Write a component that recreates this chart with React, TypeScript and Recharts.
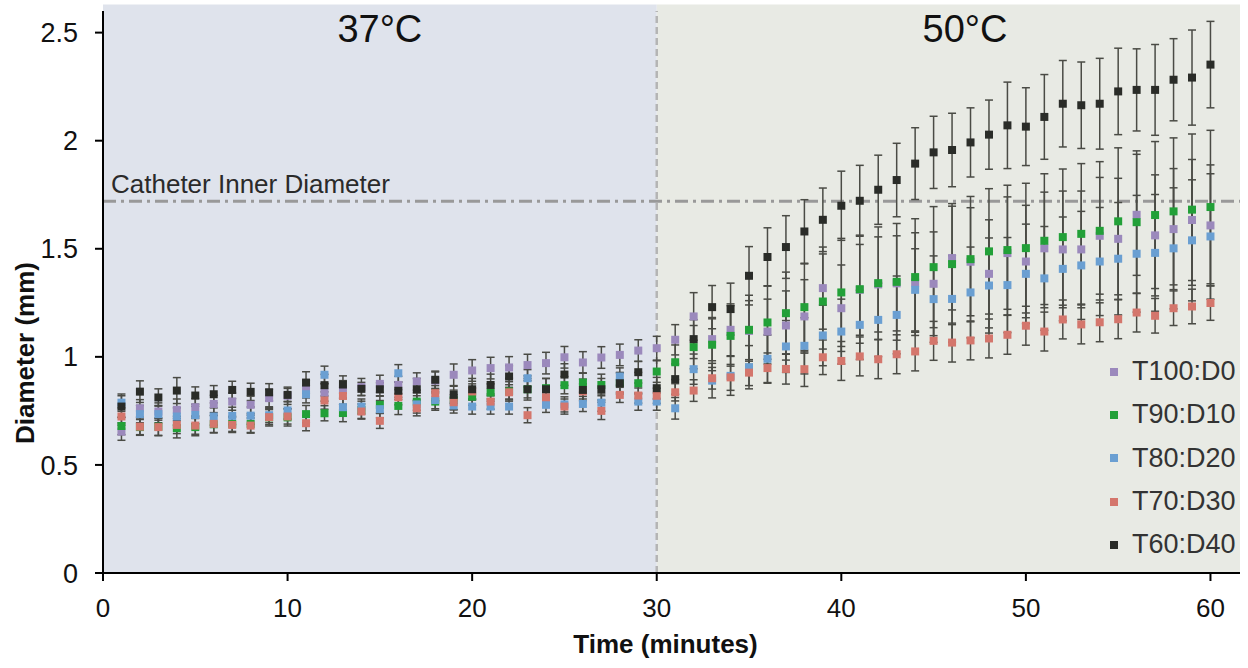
import React from 'react';
import {
  ScatterChart, Scatter, XAxis, YAxis, ZAxis, ErrorBar,
  ReferenceArea, ReferenceLine, ReferenceDot, Legend,
} from 'recharts';

const TIME = [
  1, 2, 3, 4, 5, 6, 7, 8, 9, 10, 11, 12, 13, 14, 15, 16, 17, 18, 19, 20,
  21, 22, 23, 24, 25, 26, 27, 28, 29, 30, 31, 32, 33, 34, 35, 36, 37, 38, 39, 40,
  41, 42, 43, 44, 45, 46, 47, 48, 49, 50, 51, 52, 53, 54, 55, 56, 57, 58, 59, 60,
];

const T100_D0 = [
  0.654, 0.762, 0.747, 0.755, 0.767, 0.782, 0.793, 0.778, 0.809, 0.82,
  0.85, 0.835, 0.85, 0.86, 0.875, 0.87, 0.886, 0.89, 0.917, 0.937,
  0.948, 0.951, 0.962, 0.971, 0.998, 0.974, 0.997, 1.009, 1.029, 1.04,
  1.079, 1.187, 1.082, 1.125, 1.12, 1.117, 1.145, 1.187, 1.318, 1.225,
  1.31, 1.335, 1.34, 1.344, 1.338, 1.457, 1.44, 1.384, 1.48, 1.441,
  1.502, 1.497, 1.497, 1.56, 1.546, 1.657, 1.562, 1.591, 1.633, 1.608,
];
const T100_D0_ERR = [
  0.04, 0.04, 0.04, 0.05, 0.04, 0.04, 0.04, 0.04, 0.04, 0.04,
  0.04, 0.04, 0.04, 0.04, 0.04, 0.04, 0.04, 0.04, 0.05, 0.05,
  0.05, 0.05, 0.05, 0.05, 0.05, 0.05, 0.05, 0.05, 0.05, 0.055,
  0.07, 0.11, 0.1, 0.12, 0.14, 0.15, 0.16, 0.17, 0.19, 0.2,
  0.21, 0.22, 0.22, 0.23, 0.24, 0.24, 0.25, 0.25, 0.26, 0.26,
  0.26, 0.27, 0.27, 0.27, 0.28, 0.28, 0.28, 0.28, 0.28, 0.28,
];

const T90_D10 = [
  0.68, 0.675, 0.677, 0.67, 0.675, 0.688, 0.69, 0.69, 0.72, 0.72,
  0.735, 0.739, 0.74, 0.755, 0.778, 0.773, 0.793, 0.793, 0.801, 0.816,
  0.835, 0.84, 0.85, 0.855, 0.869, 0.881, 0.87, 0.88, 0.878, 0.932,
  0.975, 1.045, 1.056, 1.097, 1.125, 1.159, 1.202, 1.23, 1.256, 1.298,
  1.313, 1.341, 1.347, 1.369, 1.415, 1.429, 1.452, 1.488, 1.494, 1.503,
  1.537, 1.554, 1.569, 1.583, 1.627, 1.623, 1.656, 1.673, 1.681, 1.693,
];
const T90_D10_ERR = [
  0.04, 0.035, 0.04, 0.045, 0.04, 0.04, 0.035, 0.04, 0.04, 0.04,
  0.04, 0.035, 0.04, 0.04, 0.04, 0.04, 0.04, 0.04, 0.045, 0.04,
  0.04, 0.045, 0.04, 0.045, 0.04, 0.045, 0.05, 0.045, 0.05, 0.05,
  0.08, 0.1, 0.12, 0.14, 0.16, 0.17, 0.19, 0.2, 0.22, 0.25,
  0.25, 0.26, 0.27, 0.27, 0.28, 0.28, 0.29, 0.29, 0.3, 0.3,
  0.31, 0.315, 0.325, 0.32, 0.34, 0.33, 0.34, 0.34, 0.35, 0.355,
];

const T80_D20 = [
  0.788, 0.735, 0.735, 0.724, 0.731, 0.724, 0.727, 0.728, 0.73, 0.752,
  0.827, 0.917, 0.767, 0.77, 0.758, 0.924, 0.78, 0.8, 0.775, 0.77,
  0.77, 0.77, 0.901, 0.778, 0.78, 0.782, 0.788, 0.909, 0.793, 0.793,
  0.762, 0.943, 0.89, 0.912, 0.952, 0.991, 1.048, 1.051, 1.099, 1.117,
  1.148, 1.171, 1.194, 1.31, 1.267, 1.268, 1.298, 1.33, 1.332, 1.384,
  1.363, 1.407, 1.423, 1.441, 1.454, 1.477, 1.481, 1.502, 1.539, 1.557,
];
const T80_D20_ERR = [
  0.04, 0.04, 0.04, 0.04, 0.04, 0.04, 0.04, 0.04, 0.035, 0.04,
  0.04, 0.04, 0.04, 0.035, 0.04, 0.04, 0.04, 0.04, 0.035, 0.035,
  0.035, 0.035, 0.04, 0.035, 0.035, 0.035, 0.04, 0.04, 0.04, 0.04,
  0.05, 0.07, 0.08, 0.09, 0.1, 0.11, 0.12, 0.13, 0.14, 0.15,
  0.16, 0.17, 0.18, 0.19, 0.2, 0.2, 0.21, 0.22, 0.22, 0.23,
  0.24, 0.24, 0.25, 0.25, 0.26, 0.27, 0.27, 0.28, 0.28, 0.29,
];

const T70_D30 = [
  0.724, 0.677, 0.675, 0.685, 0.682, 0.69, 0.685, 0.682, 0.721, 0.724,
  0.693, 0.798, 0.819, 0.747, 0.704, 0.813, 0.762, 0.832, 0.79, 0.84,
  0.793, 0.836, 0.73, 0.813, 0.77, 0.84, 0.75, 0.824, 0.821, 0.82,
  0.836, 0.844, 0.901, 0.905, 0.927, 0.948, 0.944, 0.943, 0.998, 0.981,
  1.002, 0.989, 1.012, 1.025, 1.074, 1.066, 1.076, 1.085, 1.102, 1.144,
  1.117, 1.173, 1.15, 1.16, 1.174, 1.205, 1.19, 1.225, 1.233, 1.249,
];
const T70_D30_ERR = [
  0.04, 0.04, 0.04, 0.04, 0.04, 0.04, 0.035, 0.035, 0.035, 0.035,
  0.035, 0.04, 0.04, 0.035, 0.035, 0.035, 0.035, 0.035, 0.035, 0.035,
  0.035, 0.035, 0.035, 0.035, 0.035, 0.035, 0.04, 0.035, 0.035, 0.035,
  0.04, 0.05, 0.05, 0.06, 0.06, 0.07, 0.07, 0.08, 0.08, 0.09,
  0.09, 0.09, 0.09, 0.09, 0.09, 0.09, 0.09, 0.09, 0.09, 0.09,
  0.09, 0.09, 0.09, 0.09, 0.09, 0.09, 0.08, 0.08, 0.08, 0.08,
];

const T60_D40 = [
  0.77, 0.839, 0.812, 0.844, 0.821, 0.827, 0.847, 0.838, 0.836, 0.824,
  0.881, 0.869, 0.872, 0.852, 0.85, 0.843, 0.85, 0.894, 0.824, 0.85,
  0.87, 0.909, 0.85, 0.85, 0.918, 0.847, 0.85, 0.878, 0.929, 0.855,
  0.897, 1.082, 1.23, 1.221, 1.375, 1.462, 1.508, 1.58, 1.634, 1.699,
  1.722, 1.773, 1.818, 1.894, 1.946, 1.957, 1.992, 2.028, 2.071, 2.065,
  2.11, 2.171, 2.164, 2.171, 2.228, 2.235, 2.235, 2.282, 2.292, 2.352,
];
const T60_D40_ERR = [
  0.05, 0.05, 0.04, 0.06, 0.04, 0.04, 0.04, 0.04, 0.04, 0.03,
  0.05, 0.05, 0.04, 0.03, 0.03, 0.04, 0.05, 0.04, 0.04, 0.05,
  0.05, 0.05, 0.05, 0.05, 0.05, 0.05, 0.05, 0.05, 0.05, 0.05,
  0.07, 0.09, 0.1, 0.12, 0.135, 0.135, 0.145, 0.147, 0.147, 0.16,
  0.164, 0.16, 0.17, 0.166, 0.167, 0.17, 0.16, 0.16, 0.2, 0.18,
  0.196, 0.2, 0.2, 0.21, 0.2, 0.19, 0.21, 0.19, 0.22, 0.2,
];

const SERIES_NAMES = ['T100:D0', 'T90:D10', 'T80:D20', 'T70:D30', 'T60:D40'];
const SERIES_COLORS = ['#9B89BC', '#22A038', '#6A9FD2', '#D4766C', '#2A2C28'];
const SERIES_VALUES = [T100_D0, T90_D10, T80_D20, T70_D30, T60_D40];
const SERIES_ERRORS = [T100_D0_ERR, T90_D10_ERR, T80_D20_ERR, T70_D30_ERR, T60_D40_ERR];

const X_TICKS = [0, 10, 20, 30, 40, 50, 60];
const Y_TICKS = [0, 0.5, 1, 1.5, 2, 2.5];
const PHASE_SWITCH = 30;
const CATHETER_ID = 1.72;
const PHASES = [
  { label: '37°C', from: 0, to: PHASE_SWITCH, labelX: 15, fill: '#DFE3EC' },
  { label: '50°C', from: PHASE_SWITCH, to: 61.6, labelX: 46.7, fill: '#E8EAE4' },
];

const FONT = '"Liberation Sans", Arial, Helvetica, sans-serif';

const buildPoints = (vals: number[], errs: number[]) =>
  TIME.map((t, i) => ({ x: t, y: vals[i], err: errs[i] }));

const renderLegend = () => (
  <div style={{ fontFamily: FONT, fontSize: 27, color: '#333' }}>
    {SERIES_NAMES.map((name, i) => (
      <div key={name} style={{ display: 'flex', alignItems: 'center', height: 43.3 }}>
        <span style={{ display: 'inline-block', width: 8, height: 8, background: SERIES_COLORS[i], marginRight: 14 }} />
        <span>{name}</span>
      </div>
    ))}
  </div>
);

const XTitle = (props: any) => {
  const vb = props.viewBox || { x: 103, width: 1137 };
  return (
    <text x={vb.x + vb.width / 2 - 6} y={653} textAnchor="middle" fontFamily={FONT} fontWeight="bold" fontSize={26} fill="#111">
      Time (minutes)
    </text>
  );
};

const YTitle = () => (
  <text x={0} y={0} transform="translate(34 353) rotate(-90)" textAnchor="middle" fontFamily={FONT} fontWeight="bold" fontSize={26} fill="#111">
    Diameter (mm)
  </text>
);

export default function App() {
  return (
    <div style={{ position: 'absolute', left: 0, top: 0, fontFamily: FONT }}>
      <ScatterChart width={1248} height={668} margin={{ top: 11, right: 8, bottom: 0, left: 0 }}>
        {PHASES.map((p) => (
          <ReferenceArea key={p.label} x1={p.from} x2={p.to} y1={0} y2={2.63} fill={p.fill} fillOpacity={1} stroke="none" ifOverflow="visible" />
        ))}
        <ReferenceLine x={PHASE_SWITCH} stroke="#B4B4B4" strokeWidth={2.5} strokeDasharray="7 4" />
        <ReferenceLine
          y={CATHETER_ID}
          stroke="#999"
          strokeWidth={3}
          strokeDasharray="13 5 3 5"
          label={{ value: 'Catheter Inner Diameter', position: 'insideBottomLeft', offset: 8, fontSize: 26, fill: '#2a2a2a', fontFamily: FONT }}
        />
        {PHASES.map((p) => (
          <ReferenceDot key={'l' + p.label} x={p.labelX} y={2.52} r={0} fill="none" stroke="none"
            label={{ value: p.label, position: 'center', fontSize: 38, fill: '#111', fontFamily: FONT }} />
        ))}
        <XAxis
          type="number"
          dataKey="x"
          domain={[0, 61.6]}
          ticks={X_TICKS}
          height={95}
          axisLine={{ stroke: '#000', strokeWidth: 2 }}
          tickLine={{ stroke: '#000', strokeWidth: 2 }}
          tickSize={8}
          tickMargin={18}
          tick={{ fontSize: 26, fill: '#111', fontFamily: FONT }}
          label={<XTitle />}
        />
        <YAxis
          type="number"
          dataKey="y"
          domain={[0, 2.6]}
          ticks={Y_TICKS}
          width={103}
          axisLine={{ stroke: '#000', strokeWidth: 2 }}
          tickLine={{ stroke: '#000', strokeWidth: 2 }}
          tickSize={8}
          tickMargin={17}
          tick={{ fontSize: 27, fill: '#111', fontFamily: FONT }}
          label={<YTitle />}
        />
        <ZAxis range={[56, 56]} />
        {SERIES_NAMES.map((name, i) => (
          <Scatter
            key={name}
            name={name}
            data={buildPoints(SERIES_VALUES[i], SERIES_ERRORS[i])}
            fill={SERIES_COLORS[i]}
            shape="square"
            isAnimationActive={false}
          >
            <ErrorBar dataKey="err" direction="y" width={4} stroke="#4A4B45" strokeWidth={1.5} isAnimationActive={false} />
          </Scatter>
        ))}
        <Legend
          layout="vertical"
          align="center"
          verticalAlign="middle"
          content={renderLegend}
          wrapperStyle={{ position: 'absolute', left: 1110, top: 350, width: 140, height: 220 }}
        />
      </ScatterChart>
    </div>
  );
}
